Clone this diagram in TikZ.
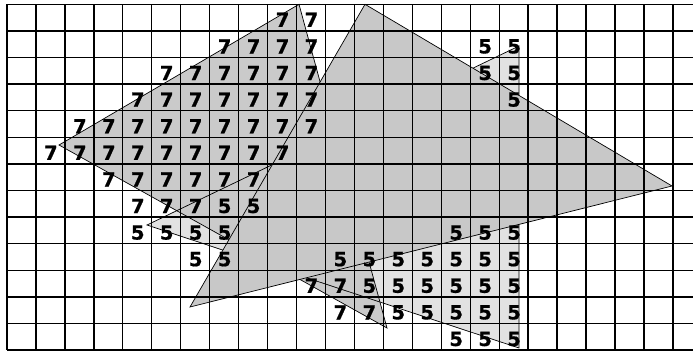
\documentclass[tikz,border=0pt]{standalone}
\usepackage{fontspec}
\setmainfont{DejaVu Sans}
\newfontfamily\numfont{DejaVu Sans}[BoldFeatures={FakeBold=0.8}]
\definecolor{graytri}{HTML}{C8C8C8}
\definecolor{sevengray}{HTML}{CACACA}
\definecolor{fivegray}{HTML}{E2E2E2}
\begin{document}
\begin{tikzpicture}[x=1pt,y=-1pt,
  gridline/.style={draw=black,line width=1.3pt},
  edge/.style={draw=black,line width=0.7pt,line join=miter},
  num/.style={font=\numfont\bfseries\fontsize{19.5}{19.5}\selectfont,inner sep=0pt,anchor=center,text=black},
  sevenfill/.style={fill=sevengray},
  fivefill/.style={fill=fivegray}]
\useasboundingbox (0,0) rectangle (693,351);
\fill[white] (0,0) rectangle (693,351);
% vertices
\coordinate (sA) at (299,4.3);
\coordinate (sB) at (59,145);
\coordinate (sC) at (387,328);
\coordinate (fA) at (147,225);
\coordinate (fB) at (519,46);
\coordinate (fC) at (519,348);
\coordinate (gA) at (365,4.3);
\coordinate (gB) at (672,186);
\coordinate (gC) at (190,307);
% speckled triangles
\fill[fivefill] (fA) -- (fB) -- (fC) -- cycle;
\fill[sevenfill] (sA) -- (sB) -- (sC) -- cycle;
\draw[edge] (sA) -- (sB) -- (sC) -- cycle;
\draw[edge] (fA) -- (fB) -- (fC) -- cycle;
% gray triangle on top
\path[fill=graytri,edge] (gA) -- (gB) -- (gC) -- cycle;
% grid
\foreach \r in {0,...,13}
  \draw[gridline] (7,{4.3+26.6*\r}) -- (693,{4.3+26.6*\r});
\foreach \c in {0,...,23}
  \draw[gridline] ({7+28.95*\c},4.3) -- ({7+28.95*\c},350.1);
% digits 7
\foreach \c/\r in {9/0,10/0,
  7/1,8/1,9/1,10/1,
  5/2,6/2,7/2,8/2,9/2,10/2,
  4/3,5/3,6/3,7/3,8/3,9/3,10/3,
  2/4,3/4,4/4,5/4,6/4,7/4,8/4,9/4,10/4,
  1/5,2/5,3/5,4/5,5/5,6/5,7/5,8/5,9/5,
  3/6,4/6,5/6,6/6,7/6,8/6,
  4/7,5/7,6/7,
  10/10,11/10,
  11/11,12/11}
  \node[num] (s\c-\r) at ({7.5+28.95*(\c+0.5)},{6.5+26.6*(\r+0.5)}) {7};
% digits 5
\foreach \c/\r in {16/1,17/1,
  16/2,17/2,
  17/3,
  7/7,8/7,
  4/8,5/8,6/8,7/8,15/8,16/8,17/8,
  6/9,7/9,11/9,12/9,13/9,14/9,15/9,16/9,17/9,
  12/10,13/10,14/10,15/10,16/10,17/10,
  13/11,14/11,15/11,16/11,17/11,
  15/12,16/12,17/12}
  \node[num] (f\c-\r) at ({7.5+28.95*(\c+0.5)},{6.5+26.6*(\r+0.5)}) {5};
\end{tikzpicture}
\end{document}
